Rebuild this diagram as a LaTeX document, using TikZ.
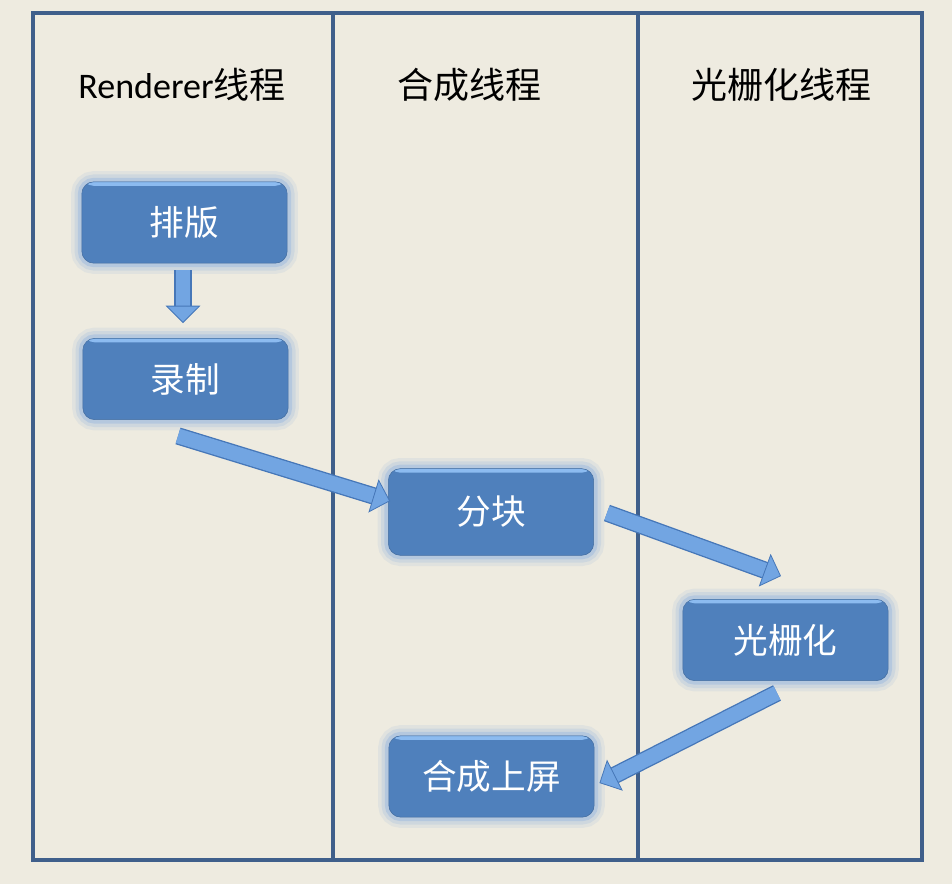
\documentclass[tikz,border=0pt]{standalone}
\usepackage{fontspec}
\setmainfont{Carlito}
\newfontfamily\cjk{Noto Sans CJK SC}
\usetikzlibrary{positioning,calc,arrows.meta}
\tikzset{>=stealth}

\definecolor{bgcol}{HTML}{EEEBE0}
\definecolor{framecol}{HTML}{3F5F8B}
\definecolor{boxblue}{HTML}{4F80BC}
\definecolor{boxlight}{HTML}{8CBBF0}
\definecolor{glowcol}{HTML}{7EA8DE}
\definecolor{arrowfill}{HTML}{72A5E2}
\definecolor{arrowedge}{HTML}{4677B8}

\tikzset{
  thread/.style={font=\fontsize{27}{31}\selectfont,text=black},
  task/.style={rounded corners=9pt,minimum width=154pt,minimum height=61pt,
    fill=boxblue,draw=boxblue!85!black,line width=0.4pt,
    text=white,font=\cjk\fontsize{26}{30}\selectfont,
    preaction={draw=glowcol,line width=16pt,opacity=0.12},
    preaction={draw=glowcol,line width=11pt,opacity=0.18},
    preaction={draw=glowcol,line width=6pt,opacity=0.3},
    path picture={\fill[boxlight] (path picture bounding box.north west)
      rectangle ([yshift=-3pt]path picture bounding box.north east);}},
  fatarrow/.style={draw=arrowfill,line width=11pt,
    -{Triangle[width=26pt,length=13pt,fill=arrowfill,color=arrowedge,line width=0.6pt]},
    preaction={draw=arrowedge,line width=13pt,arrows=-,shorten >=12pt}}
}

\begin{document}
\begin{tikzpicture}[x=0.75pt,y=-0.75pt]
% Page and background
\useasboundingbox (0,0) rectangle (952,884);
\fill[bgcol] (0,0) rectangle (952,884);

% Frame with three lanes
\draw[framecol,line width=2.6pt] (33,13) rectangle (922,860);
\draw[framecol,line width=2.6pt] (333,13) -- (333,860);
\draw[framecol,line width=2.6pt] (638,13) -- (638,860);

% Lane titles
\node[thread] (renderer) at (182,85) {Renderer{\cjk 线程}};
\node[thread] (compositor) at (469,85) {\cjk 合成线程};
\node[thread] (raster) at (781,85) {\cjk 光栅化线程};

% Tasks
\node[task] (layout) at (184.5,222.5) {排版};
\node[task] (record) at (185.5,379) {录制};
\node[task,minimum height=65pt] (tiling) at (491,512) {分块};
\node[task] (rasterize) at (785.5,640) {光栅化};
\node[task] (present) at (491.5,776.5) {合成上屏};

% Arrows between tasks
\draw[fatarrow] ($(layout.south)+(-1.5,7)$) -- ($(record.north)+(-2.5,-15)$);
\draw[fatarrow] ($(record.south)+(-7.5,16)$) -- ($(tiling.west)+(2,-11)$);
\draw[fatarrow] ($(tiling.east)+(13,1)$) -- ($(rasterize.north)+(-4.5,-23)$);
\draw[fatarrow] ($(rasterize.south)+(-8.5,12)$) -- ($(present.east)+(5,6.5)$);
\end{tikzpicture}
\end{document}
